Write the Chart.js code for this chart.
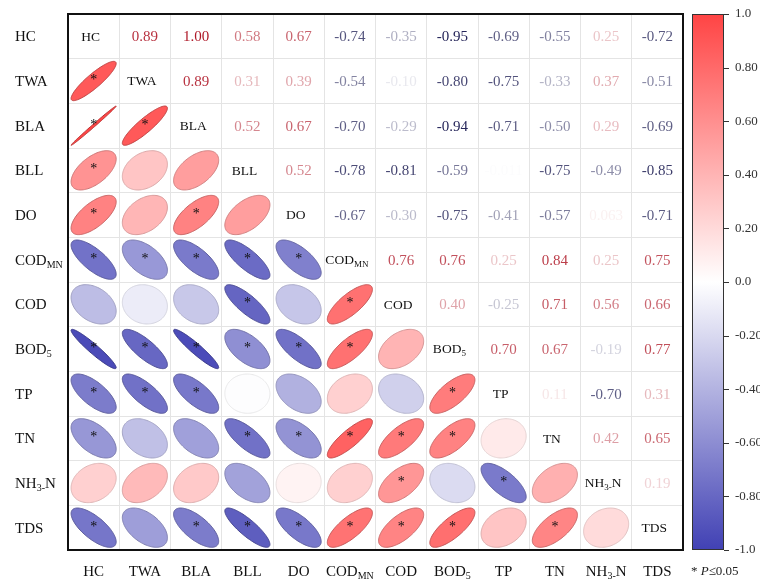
<!DOCTYPE html>
<html>
<head>
<meta charset="utf-8">
<script src="https://cdn.jsdelivr.net/npm/chart.js@4.4.1/dist/chart.umd.min.js"></script>
<style>
  html, body { margin: 0; padding: 0; background: #ffffff; }
  #wrap { width: 760px; height: 581px; }
</style>
</head>
<body>
<div id="wrap"><canvas id="corr"></canvas></div>
<script>
// Variables (diagonal / axis labels); "_{...}" marks a subscript
const variables = ['HC', 'TWA', 'BLA', 'BLL', 'DO', 'COD_{MN}', 'COD', 'BOD_{5}', 'TP', 'TN', 'NH_{3-}N', 'TDS'];

// Pearson r, upper triangle: each row holds r(row, col) for the columns after it
const rowHC    = [0.89, 0.996, 0.58, 0.67, -0.74, -0.35, -0.95, -0.69, -0.55, 0.25, -0.72];
const rowTWA   = [0.89, 0.31, 0.39, -0.54, -0.10, -0.80, -0.75, -0.33, 0.37, -0.51];
const rowBLA   = [0.52, 0.67, -0.70, -0.29, -0.94, -0.71, -0.50, 0.29, -0.69];
const rowBLL   = [0.52, -0.78, -0.81, -0.59, -0.011, -0.75, -0.49, -0.85];
const rowDO    = [-0.67, -0.30, -0.75, -0.41, -0.57, 0.063, -0.71];
const rowCODMN = [0.76, 0.76, 0.25, 0.84, 0.25, 0.75];
const rowCOD   = [0.40, -0.25, 0.71, 0.56, 0.66];
const rowBOD5  = [0.70, 0.67, -0.19, 0.77];
const rowTP    = [0.11, -0.70, 0.31];
const rowTN    = [0.42, 0.65];
const rowNH3N  = [0.19];

// Significance (P <= 0.05), same layout as the rows above
const sigHC    = [1, 1, 1, 1, 1, 0, 1, 1, 1, 0, 1];
const sigTWA   = [1, 0, 0, 1, 0, 1, 1, 0, 0, 0];
const sigBLA   = [0, 1, 1, 0, 1, 1, 0, 0, 1];
const sigBLL   = [0, 1, 1, 1, 0, 1, 0, 1];
const sigDO    = [1, 0, 1, 0, 1, 0, 1];
const sigCODMN = [1, 1, 0, 1, 0, 1];
const sigCOD   = [0, 0, 1, 1, 1];
const sigBOD5  = [1, 1, 0, 1];
const sigTP    = [0, 1, 0];
const sigTN    = [0, 1];
const sigNH3N  = [0];

// Colour-bar tick values
const colorbarTicks = [1, 0.8, 0.6, 0.4, 0.2, 0, -0.2, -0.4, -0.6, -0.8, -1];

const corrRows = [rowHC, rowTWA, rowBLA, rowBLL, rowDO, rowCODMN, rowCOD, rowBOD5, rowTP, rowTN, rowNH3N];
const sigRows  = [sigHC, sigTWA, sigBLA, sigBLL, sigDO, sigCODMN, sigCOD, sigBOD5, sigTP, sigTN, sigNH3N];

// Build the lower (ellipse) and upper (number) cells
const lowerCells = [], upperCells = [], diagCells = [];
corrRows.forEach((row, i) => {
  row.forEach((v, k) => {
    const j = i + 1 + k;
    upperCells.push({ x: variables[j], y: variables[i], v: v });
    lowerCells.push({ x: variables[i], y: variables[j], v: v, sig: sigRows[i][k] === 1 });
  });
});
variables.forEach(name => diagCells.push({ x: name, y: name }));

const SERIF = "'Liberation Serif', 'Times New Roman', serif";
const font = (size, style) => (style ? style + ' ' : '') + size + 'px ' + SERIF;

// Diverging colour map: blue (-1) -> white (0) -> red (+1)
function cmap(r) {
  const a = Math.min(1, Math.abs(r));
  if (r >= 0) return [255, 255 - 187 * a, 255 - 187 * a];
  return [255 - 190 * a, 255 - 190 * a, 255 - 75 * a];
}
const rgb = c => 'rgb(' + c.map(Math.round).join(',') + ')';

function textColor(r) {
  const a = Math.min(1, Math.abs(r));
  const dark = r >= 0 ? [175, 25, 40] : [25, 25, 80];
  return rgb(dark.map(d => 255 - a * (255 - d)));
}

function fmt(v) {
  return Math.abs(v) < 0.095 ? v.toPrecision(2) : v.toFixed(2);
}

function parseLabel(s) {
  const parts = [];
  const re = /_\{([^}]*)\}/g;
  let last = 0, m;
  while ((m = re.exec(s))) {
    if (m.index > last) parts.push({ t: s.slice(last, m.index), sub: false });
    parts.push({ t: m[1], sub: true });
    last = re.lastIndex;
  }
  if (last < s.length) parts.push({ t: s.slice(last), sub: false });
  return parts;
}

// Draw a label with subscripts, vertically centred on y
function drawRich(ctx, s, x, y, size, align, color) {
  const parts = parseLabel(s);
  const subSize = Math.round(size * 0.66);
  const widths = parts.map(p => { ctx.font = font(p.sub ? subSize : size); return ctx.measureText(p.t).width; });
  const total = widths.reduce((a, b) => a + b, 0);
  let cx = align === 'center' ? x - total / 2 : x;
  const base = y + size * 0.33;
  ctx.textAlign = 'left';
  ctx.textBaseline = 'alphabetic';
  ctx.fillStyle = color;
  parts.forEach((p, i) => {
    ctx.font = font(p.sub ? subSize : size);
    ctx.fillText(p.t, cx, p.sub ? base + size * 0.2 : base);
    cx += widths[i];
  });
}

function ellipsePath(ctx, cx, cy, w, h, r) {
  const d = Math.acos(Math.max(-1, Math.min(1, r)));
  const sx = 0.44 * w, sy = 0.44 * h;
  ctx.beginPath();
  for (let s = 0; s <= 120; s++) {
    const t = s / 120 * 2 * Math.PI;
    const px = cx + Math.cos(t + d / 2) * sx;
    const py = cy - Math.cos(t - d / 2) * sy;
    if (s === 0) ctx.moveTo(px, py); else ctx.lineTo(px, py);
  }
  ctx.closePath();
}

const corrPlugin = {
  id: 'corrCells',
  afterDatasetsDraw(chart) {
    const { ctx, scales } = chart;
    const xs = scales.x, ys = scales.y;
    const w = xs.width / variables.length, h = ys.height / variables.length;
    ctx.save();

    // lower triangle: ellipses
    chart.getDatasetMeta(0).data.forEach((el, k) => {
      const cell = chart.data.datasets[0].data[k];
      const fill = cmap(cell.v);
      const k2 = 0.08 + 0.2 * Math.abs(cell.v);
      ellipsePath(ctx, el.x, el.y, w, h, cell.v);
      ctx.fillStyle = rgb(fill);
      ctx.fill();
      ctx.lineWidth = 1;
      ctx.strokeStyle = rgb(fill.map(c => c * (1 - k2)));
      ctx.stroke();
      if (cell.sig) {
        ctx.font = font(14);
        ctx.textAlign = 'center';
        ctx.textBaseline = 'alphabetic';
        ctx.fillStyle = '#111';
        ctx.fillText('*', el.x, el.y + 3);
      }
    });

    // upper triangle: coefficients
    chart.getDatasetMeta(1).data.forEach((el, k) => {
      const cell = chart.data.datasets[1].data[k];
      ctx.font = font(15);
      ctx.textAlign = 'center';
      ctx.textBaseline = 'alphabetic';
      ctx.fillStyle = textColor(cell.v);
      ctx.fillText(fmt(cell.v), el.x, el.y + 15 * 0.33);
    });

    // diagonal: variable names
    chart.getDatasetMeta(2).data.forEach((el, k) => {
      drawRich(ctx, variables[k], el.x - 3, el.y, 13.5, 'center', '#111');
    });
    ctx.restore();
  },
  afterDraw(chart) {
    const { ctx, chartArea: ca, scales } = chart;
    const xs = scales.x, ys = scales.y, cb = scales.cb;
    ctx.save();

    // frame
    ctx.strokeStyle = '#111';
    ctx.lineWidth = 2;
    ctx.strokeRect(ca.left, ca.top, ca.right - ca.left, ca.bottom - ca.top);

    // axis labels
    variables.forEach((name, i) => {
      drawRich(ctx, name, 15, ys.getPixelForTick(i), 15, 'left', '#111');
      drawRich(ctx, name, xs.getPixelForTick(i), 571, 15, 'center', '#111');
    });

    // colour bar
    const bx = ca.right + 9, bw = 32;
    const top = cb.getPixelForValue(1), bot = cb.getPixelForValue(-1);
    const g = ctx.createLinearGradient(0, top, 0, bot);
    g.addColorStop(0, rgb(cmap(1)));
    g.addColorStop(0.5, rgb(cmap(0)));
    g.addColorStop(1, rgb(cmap(-1)));
    ctx.fillStyle = g;
    ctx.fillRect(bx, top, bw, bot - top);
    ctx.lineWidth = 1;
    ctx.strokeStyle = '#333';
    ctx.strokeRect(bx + 0.5, top + 0.5, bw - 1, bot - top - 1);
    ctx.beginPath();
    colorbarTicks.forEach(v => {
      const py = Math.round(cb.getPixelForValue(v)) + 0.5;
      ctx.moveTo(bx + bw, py);
      ctx.lineTo(bx + bw + 5, py);
    });
    ctx.stroke();

    // significance note
    ctx.textBaseline = 'alphabetic';
    ctx.textAlign = 'left';
    ctx.fillStyle = '#222';
    let tx = 691;
    const ty = 575;
    [['* ', ''], ['P', 'italic'], ['\u22640.05', '']].forEach(([t, st]) => {
      ctx.font = font(13, st);
      ctx.fillText(t, tx, ty);
      tx += ctx.measureText(t).width;
    });
    ctx.restore();
  }
};

new Chart(document.getElementById('corr'), {
  type: 'scatter',
  data: {
    datasets: [
      { label: 'lower', data: lowerCells, pointRadius: 0, pointHoverRadius: 0, yAxisID: 'y' },
      { label: 'upper', data: upperCells, pointRadius: 0, pointHoverRadius: 0, yAxisID: 'y' },
      { label: 'diag', data: diagCells, pointRadius: 0, pointHoverRadius: 0, yAxisID: 'y' }
    ]
  },
  options: {
    responsive: true,
    maintainAspectRatio: false,
    animation: false,
    events: [],
    layout: { padding: { top: 14, left: 0, right: 0, bottom: 0 } },
    plugins: { legend: { display: false }, tooltip: { enabled: false } },
    scales: {
      x: {
        type: 'category',
        labels: variables,
        offset: true,
        position: 'bottom',
        grid: { offset: true, color: '#e4e4e4', lineWidth: 1, drawTicks: false },
        border: { display: false },
        ticks: { display: false },
        afterFit: s => { s.height = 31; s.paddingLeft = 0; s.paddingRight = 0; }
      },
      y: {
        type: 'category',
        labels: variables,
        offset: true,
        position: 'left',
        grid: { offset: true, color: '#e4e4e4', lineWidth: 1, drawTicks: false },
        border: { display: false },
        ticks: { display: false },
        afterFit: s => { s.width = 68; s.paddingTop = 0; s.paddingBottom = 0; }
      },
      cb: {
        type: 'linear',
        position: 'right',
        min: -1,
        max: 1,
        grid: { display: false, drawTicks: false, drawOnChartArea: false },
        border: { display: false },
        afterBuildTicks: s => { s.ticks = colorbarTicks.map(v => ({ value: v })); },
        ticks: {
          padding: 52,
          color: '#333',
          font: { family: SERIF, size: 13 },
          callback: v => (Math.abs(v) === 1 || v === 0) ? v.toFixed(1) : v.toFixed(2)
        },
        afterFit: s => { s.width = 77; s.paddingTop = 0; s.paddingBottom = 0; }
      }
    }
  },
  plugins: [corrPlugin]
});
</script>
</body>
</html>
